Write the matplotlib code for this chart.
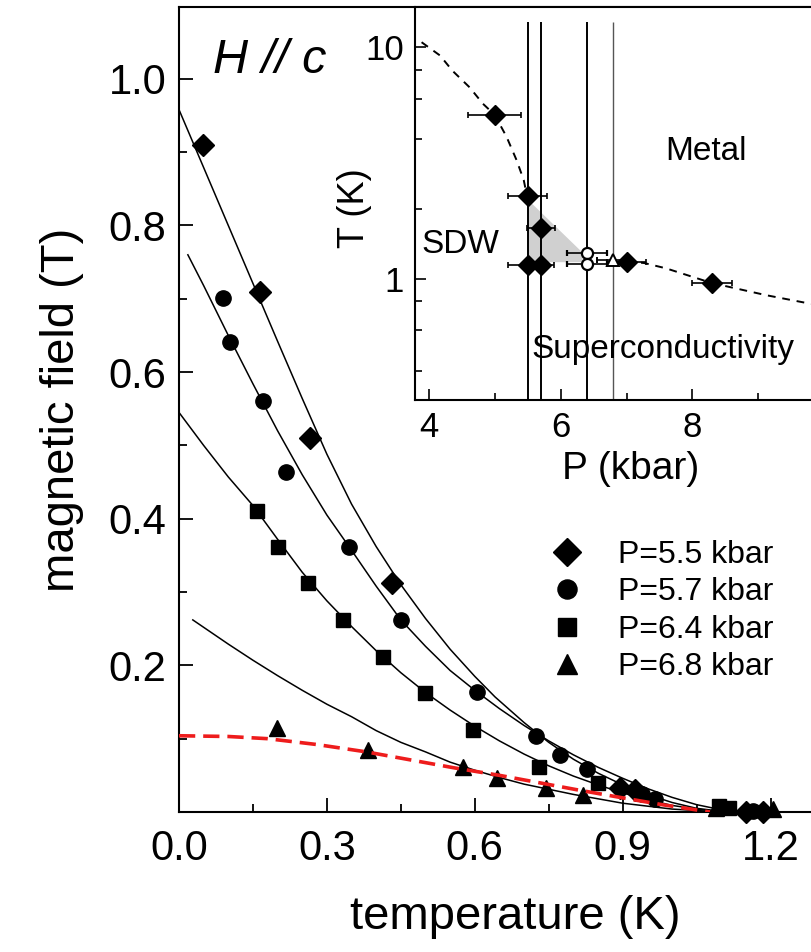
import matplotlib
matplotlib.use('Agg')
import matplotlib.pyplot as plt
from matplotlib.ticker import FixedLocator, NullFormatter, FormatStrFormatter

plt.rcParams['font.family'] = ['Liberation Sans', 'DejaVu Sans']

# ---------------- main panel data ----------------
T_55 = [0.049, 0.164, 0.266, 0.432, 0.895, 0.925, 1.15, 1.185]
H_55 = [0.910, 0.709, 0.510, 0.312, 0.033, 0.030, 0.000, 0.000]
T_57 = [0.089, 0.103, 0.170, 0.217, 0.345, 0.450, 0.604, 0.724, 0.772, 0.827, 0.94, 0.965, 1.165]
H_57 = [0.701, 0.641, 0.561, 0.464, 0.362, 0.262, 0.164, 0.103, 0.078, 0.059, 0.025, 0.018, 0.002]
T_64 = [0.158, 0.200, 0.262, 0.332, 0.413, 0.499, 0.596, 0.730, 0.850, 1.095, 1.115]
H_64 = [0.411, 0.362, 0.312, 0.262, 0.211, 0.162, 0.112, 0.062, 0.040, 0.008, 0.005]
T_68 = [0.199, 0.383, 0.577, 0.645, 0.744, 0.819, 1.09, 1.205]
H_68 = [0.115, 0.085, 0.061, 0.046, 0.033, 0.023, 0.005, 0.004]

# fit curves
FIT_T55 = [0, .05, .10, .15, .20, .25, .30, .35, .40, .45, .50, .55, .60, .641, .70, .75, .80, .85, .90, .95, 1.0, 1.05, 1.10, 1.13]
FIT_H55 = [.958, .879, .800, .721, .642, .564, .488, .420, .362, .310, .264, .222, .185, .157, .122, .095, .072, .053, .037, .024, .013, .005, .001, 0]
FIT_T57 = [.018, .05, .10, .15, .20, .25, .30, .35, .40, .45, .50, .55, .60, .65, .70, .75, .80, .85, .90, .95, 1.0, 1.05, 1.10]
FIT_H57 = [.760, .718, .650, .584, .520, .460, .405, .357, .308, .262, .226, .193, .166, .141, .118, .097, .078, .061, .046, .032, .020, .010, .003]
FIT_T64 = [0, .05, .10, .15, .20, .25, .30, .35, .40, .45, .50, .55, .60, .65, .70, .75, .80, .85, .90, .95, 1.0, 1.05, 1.10]
FIT_H64 = [.545, .500, .457, .418, .372, .327, .288, .253, .220, .190, .163, .139, .117, .097, .079, .063, .049, .037, .026, .017, .009, .004, 0]
FIT_T68 = [.028, .10, .15, .20, .25, .30, .35, .40, .45, .50, .55, .60, .65, .70, .75, .80, .85, .90, .95, 1.0, 1.05, 1.10]
FIT_H68 = [.262, .229, .207, .186, .166, .147, .130, .111, .095, .082, .068, .057, .047, .038, .031, .024, .018, .012, .008, .004, .002, 0]
RED_T = [0, .10, .18, .28, .38, .47, .56, .65, .73, .81, .894, .98, 1.077]
RED_H = [.104, .103, .100, .092, .082, .071, .060, .050, .040, .030, .020, .010, 0]

labels = ['P=5.5 kbar', 'P=5.7 kbar', 'P=6.4 kbar', 'P=6.8 kbar']
x_ticks = [0.0, 0.3, 0.6, 0.9, 1.2]
y_ticks = [0.2, 0.4, 0.6, 0.8, 1.0]

# ---------------- inset data ----------------
P_lines = [5.5, 5.7, 6.4, 6.8]
P_dia = [5.0, 5.5, 5.7, 5.5, 5.7, 7.0, 8.3]
T_dia = [5.1, 2.28, 1.66, 1.15, 1.15, 1.18, 0.96]
Perr_dia = [0.4, 0.3, 0.21, 0.3, 0.2, 0.3, 0.3]
P_open_c = [6.4, 6.4]
T_open_c = [1.29, 1.16]
Perr_open_c = [0.3, 0.3]
P_open_t = [6.8]
T_open_t = [1.20]
Perr_open_t = [0.25]
DASH1_P = [3.89, 4.17, 4.36, 4.62, 4.82, 5.0, 5.18, 5.33, 5.44, 5.48]
DASH1_T = [10.5, 9.2, 7.9, 6.7, 5.7, 5.1, 4.1, 3.26, 2.67, 2.35]
DASH2_P = [7.0, 7.27, 7.6, 8.29, 9.12, 9.80]
DASH2_T = [1.19, 1.17, 1.11, 0.96, 0.85, 0.78]
SHADE_P = [5.5, 6.33, 6.33, 5.5]
SHADE_T = [2.2, 1.3, 1.18, 1.18]

W, H = 811, 952
fig = plt.figure(figsize=(W / 100, H / 100), dpi=100)
ax = fig.add_axes([179 / W, 1 - 812 / H, 1 - 179 / W, (812 - 7) / H])

lc = 'black'
ax.plot(FIT_T55, FIT_H55, color=lc, lw=1.1, zorder=2)
ax.plot(FIT_T57, FIT_H57, color=lc, lw=1.1, zorder=2)
ax.plot(FIT_T64, FIT_H64, color=lc, lw=1.1, zorder=2)
ax.plot(FIT_T68, FIT_H68, color=lc, lw=1.1, zorder=2)
ax.plot(RED_T, RED_H, color='#ee1c1c', lw=2.6, dashes=(4.5, 2.2), zorder=4)

h1, = ax.plot(T_55, H_55, 'D', color='black', ms=11, ls='none', clip_on=False, zorder=3)
h2, = ax.plot(T_57, H_57, 'o', color='black', ms=11, ls='none', clip_on=False, zorder=3)
h3, = ax.plot(T_64, H_64, 's', color='black', ms=10.5, ls='none', clip_on=False, zorder=3)
h4, = ax.plot(T_68, H_68, '^', color='black', ms=12, ls='none', clip_on=False, zorder=3)

ax.set_xlim(0, 1.282)
ax.set_ylim(0, 1.098)
ax.xaxis.set_major_locator(FixedLocator(x_ticks))
ax.xaxis.set_minor_locator(FixedLocator([0.15, 0.45, 0.75, 1.05]))
ax.yaxis.set_major_locator(FixedLocator(y_ticks))
ax.yaxis.set_minor_locator(FixedLocator([0.1, 0.3, 0.5, 0.7, 0.9]))
ax.xaxis.set_major_formatter(FormatStrFormatter('%.1f'))
ax.yaxis.set_major_formatter(FormatStrFormatter('%.1f'))
ax.tick_params(which='both', direction='in', top=False, right=False, width=1.3)
ax.tick_params(which='major', length=10, labelsize=30)
ax.tick_params(axis='x', which='major', pad=12)
ax.tick_params(axis='y', which='major', pad=9)
ax.tick_params(which='minor', length=6)
for s in ax.spines.values():
    s.set_linewidth(1.5)
ax.spines['right'].set_visible(False)

ax.set_xlabel('temperature (K)', fontsize=34)
ax.set_ylabel('magnetic field (T)', fontsize=34)
ax.xaxis.set_label_coords((515 - 179) / 632, (812 - 895) / 805)
ax.yaxis.set_label_coords((84 - 179) / 632, 0.5)

ax.text((213 - 179) / 632, (812 - 73) / 805, 'H // c', transform=ax.transAxes,
        fontsize=35, style='italic', va='baseline', ha='left')

leg = ax.legend([h1, h2, h3, h4], labels, loc='upper left',
                bbox_to_anchor=((551 - 179) / 632, (812 - 540) / 805),
                frameon=False, fontsize=23, handlelength=1.0, handletextpad=1.1,
                labelspacing=0.23, borderpad=0, borderaxespad=0, markerscale=1.25)

# ---------------- inset ----------------
ax2 = fig.add_axes([415 / W, 1 - 400 / H, 1 - 415 / W, (400 - 7) / H])
ax2.set_yscale('log')
ax2.set_xlim(3.79, 9.80)
ax2.set_ylim(0.30, 14.9)

ax2.fill(SHADE_P, SHADE_T, facecolor='#d0d0d0', edgecolor='none', hatch='....', zorder=1)
ax2.vlines(P_lines[:3], 0.30, 12.8, color='black', lw=1.4, zorder=2)
ax2.vlines(P_lines[3:], 0.30, 12.8, color='#555555', lw=1.0, zorder=2)
ax2.plot(DASH1_P, DASH1_T, color='black', lw=1.4, dashes=(4, 3.5), zorder=2)
ax2.plot(DASH2_P, DASH2_T, color='black', lw=1.4, dashes=(4, 3.5), zorder=2)

ax2.errorbar(P_dia, T_dia, xerr=Perr_dia, fmt='D', color='black', ms=10,
             elinewidth=1.2, capsize=2.2, capthick=1.2, zorder=4)
ax2.errorbar(P_open_c, T_open_c, xerr=Perr_open_c, fmt='o', color='black', mfc='white',
             mew=1.6, ms=8, elinewidth=1.2, capsize=2.2, capthick=1.2, zorder=4)
ax2.errorbar(P_open_t, T_open_t, xerr=Perr_open_t, fmt='^', color='black', mfc='white',
             mew=1.4, ms=8, elinewidth=1.2, capsize=2.2, capthick=1.2, zorder=4)

ax2.xaxis.set_major_locator(FixedLocator([4, 6, 8]))
ax2.xaxis.set_minor_locator(FixedLocator([5, 7, 9]))
ax2.yaxis.set_major_locator(FixedLocator([1, 10]))
ax2.yaxis.set_minor_locator(FixedLocator([0.4, 0.6, 0.8, 2, 4, 6, 8]))
ax2.yaxis.set_major_formatter(FormatStrFormatter('%g'))
ax2.yaxis.set_minor_formatter(NullFormatter())
ax2.tick_params(which='both', direction='in', top=False, right=False, width=1.2)
ax2.tick_params(which='major', length=8, labelsize=25, pad=8)
ax2.tick_params(which='minor', length=5)
for s in ax2.spines.values():
    s.set_linewidth(1.5)
ax2.spines['right'].set_visible(False)

ax2.set_xlabel('P (kbar)', fontsize=28)
ax2.set_ylabel('T (K)', fontsize=26)
ax2.xaxis.set_label_coords((631 - 415) / 396, (400 - 451) / 393)
ax2.yaxis.set_label_coords((372 - 415) / 396, (400 - 208) / 393)

ax2.text(8.2, 3.26, 'Metal', fontsize=24, ha='center', va='baseline')
ax2.text(4.485, 1.294, 'SDW', fontsize=24, ha='center', va='baseline')
ax2.text(7.56, 0.4566, 'Superconductivity', fontsize=24, ha='center', va='baseline')

fig.savefig('out.png', dpi=100)
